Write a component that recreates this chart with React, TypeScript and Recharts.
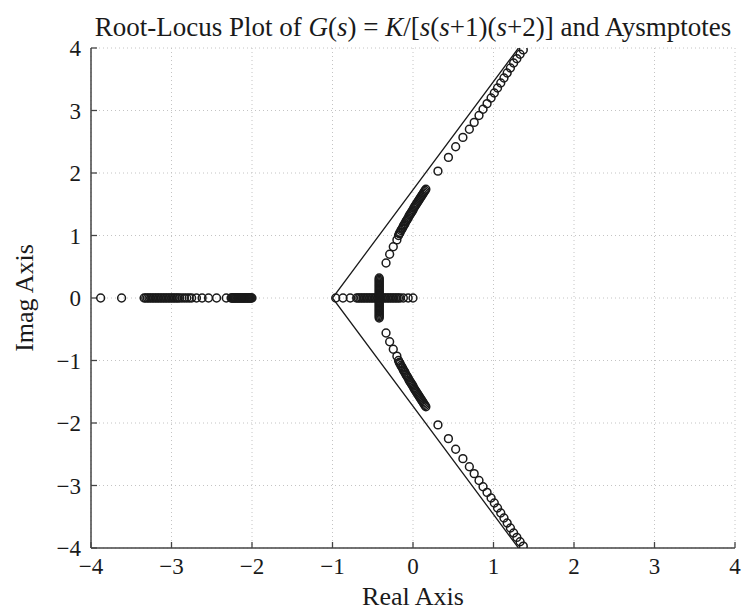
import React from 'react';
import { ScatterChart, Scatter, XAxis, YAxis, CartesianGrid } from 'recharts';

const axisTicks = [-4, -3, -2, -1, 0, 1, 2, 3, 4];

// closed-loop poles (circles)
const realAxisLeft = [
  -3.88, -3.62,
  -3.34, -3.32, -3.3, -3.28, -3.26, -3.24, -3.22, -3.2, -3.18, -3.16, -3.14, -3.12, -3.1, -3.08, -3.06,
  -3.04, -3.02, -3.0, -2.98, -2.96, -2.94, -2.92, -2.9, -2.87, -2.84, -2.81, -2.78, -2.75,
  -2.69, -2.62, -2.54, -2.44, -2.32,
  -2.26, -2.25, -2.24, -2.23, -2.22, -2.21, -2.2, -2.19, -2.18, -2.17, -2.16, -2.15, -2.14, -2.13,
  -2.12, -2.11, -2.1, -2.09, -2.08, -2.07, -2.06, -2.05, -2.04, -2.03, -2.02, -2.01, -2.0,
];
const realAxisMid = [
  -0.96, -0.87, -0.78,
  -0.7, -0.68, -0.66, -0.64, -0.62, -0.6, -0.58, -0.56, -0.54, -0.52, -0.5, -0.48, -0.46, -0.44, -0.42,
  -0.4, -0.38, -0.36, -0.34, -0.32, -0.3, -0.28, -0.26, -0.24, -0.22, -0.2, -0.18, -0.16,
  -0.12, -0.06, 0.0,
];
// the thick vertical bar at the breakaway point
const breakawayX = -0.42;
const breakawayImag = [
  -0.32, -0.3, -0.28, -0.26, -0.24, -0.22, -0.2, -0.18, -0.16, -0.14, -0.12, -0.1, -0.08, -0.06, -0.04, -0.02, 0,
  0.02, 0.04, 0.06, 0.08, 0.1, 0.12, 0.14, 0.16, 0.18, 0.2, 0.22, 0.24, 0.26, 0.28, 0.3, 0.32,
];
const upperBranch: [number, number][] = [
  [-0.335, 0.56], [-0.29, 0.7], [-0.245, 0.82], [-0.2, 0.93],
  [-0.18, 1.0], [-0.17, 1.03], [-0.16, 1.05], [-0.15, 1.08], [-0.14, 1.1], [-0.13, 1.12], [-0.12, 1.15],
  [-0.11, 1.17], [-0.1, 1.19], [-0.09, 1.22], [-0.08, 1.24], [-0.07, 1.26], [-0.06, 1.28], [-0.05, 1.31],
  [-0.04, 1.33], [-0.03, 1.35], [-0.02, 1.37], [-0.01, 1.39], [0.0, 1.41], [0.01, 1.44], [0.02, 1.46],
  [0.03, 1.48], [0.04, 1.5], [0.05, 1.52], [0.06, 1.54], [0.07, 1.56], [0.08, 1.58], [0.09, 1.6],
  [0.1, 1.62], [0.11, 1.64], [0.12, 1.66], [0.13, 1.68], [0.14, 1.7], [0.15, 1.72], [0.16, 1.74],
  [0.31, 2.03], [0.44, 2.25], [0.53, 2.42], [0.62, 2.57], [0.7, 2.7], [0.76, 2.81], [0.82, 2.92],
  [0.87, 3.02], [0.92, 3.11], [0.97, 3.2], [1.01, 3.28], [1.05, 3.36], [1.09, 3.44], [1.13, 3.52],
  [1.17, 3.6], [1.21, 3.68], [1.25, 3.76], [1.29, 3.83], [1.33, 3.9], [1.37, 3.97],
];
const lowerBranch: [number, number][] = [
  [-0.335, -0.56], [-0.29, -0.7], [-0.245, -0.82], [-0.2, -0.93],
  [-0.18, -1.0], [-0.17, -1.03], [-0.16, -1.05], [-0.15, -1.08], [-0.14, -1.1], [-0.13, -1.12], [-0.12, -1.15],
  [-0.11, -1.17], [-0.1, -1.19], [-0.09, -1.22], [-0.08, -1.24], [-0.07, -1.26], [-0.06, -1.28], [-0.05, -1.31],
  [-0.04, -1.33], [-0.03, -1.35], [-0.02, -1.37], [-0.01, -1.39], [0.0, -1.41], [0.01, -1.44], [0.02, -1.46],
  [0.03, -1.48], [0.04, -1.5], [0.05, -1.52], [0.06, -1.54], [0.07, -1.56], [0.08, -1.58], [0.09, -1.6],
  [0.1, -1.62], [0.11, -1.64], [0.12, -1.66], [0.13, -1.68], [0.14, -1.7], [0.15, -1.72], [0.16, -1.74],
  [0.31, -2.03], [0.44, -2.25], [0.53, -2.42], [0.62, -2.57], [0.7, -2.7], [0.76, -2.81], [0.82, -2.92],
  [0.87, -3.02], [0.92, -3.11], [0.97, -3.2], [1.01, -3.28], [1.05, -3.36], [1.09, -3.44], [1.13, -3.52],
  [1.17, -3.6], [1.21, -3.68], [1.25, -3.76], [1.29, -3.83], [1.33, -3.9], [1.37, -3.97],
];

// asymptotes: top end -> centroid -> bottom end
const asymptoteX = [1.31, -1, 1.31];
const asymptoteY = [4, 0, -4];

const poles = [
  ...realAxisLeft.map((x) => ({ x, y: 0 })),
  ...realAxisMid.map((x) => ({ x, y: 0 })),
  ...breakawayImag.map((y) => ({ x: breakawayX, y })),
  ...upperBranch.map(([x, y]) => ({ x, y })),
  ...lowerBranch.map(([x, y]) => ({ x, y })),
];
const asymptotes = asymptoteX.map((x, i) => ({ x, y: asymptoteY[i] }));

const serif = '"Liberation Serif", "DejaVu Serif", serif';
const ink = '#1a1a1a';

const fmt = (v: number) => (v < 0 ? `\u2212${-v}` : `${v}`);

function Ring(props: any) {
  const { cx, cy } = props;
  if (cx == null || cy == null) return <g />;
  return <circle cx={cx} cy={cy} r={3.9} fill="none" stroke={ink} strokeWidth={1.5} />;
}

const tickStyle = { fontFamily: serif, fontSize: 23, fill: ink };

export default function App() {
  return (
    <div style={{ position: 'absolute', left: 0, top: 0, width: 742, height: 612, background: '#fff', fontFamily: serif, color: ink }}>
      <div style={{ position: 'absolute', left: 0, top: 12, width: 826, textAlign: 'center', fontSize: 27, lineHeight: '30px', whiteSpace: 'nowrap' }}>
        Root-Locus Plot of <i>G</i>(<i>s</i>) = <i>K</i>/[<i>s</i>(<i>s</i>+1)(<i>s</i>+2)] and Aysmptotes
      </div>

      <ScatterChart width={742} height={612} margin={{ top: 48, right: 7, bottom: 34, left: 31 }}>
        <CartesianGrid stroke="#c4c4c4" strokeDasharray="1 3" horizontal vertical
          horizontalValues={axisTicks} verticalValues={axisTicks} />
        <XAxis dataKey="x" type="number" domain={[-4, 4]} ticks={axisTicks} allowDataOverflow
          height={30} tickSize={-6} tickMargin={16} tickFormatter={fmt} tick={tickStyle}
          axisLine={{ stroke: '#444', strokeWidth: 1.5 }} tickLine={{ stroke: '#444', strokeWidth: 1.3 }} />
        <XAxis xAxisId="top" orientation="top" dataKey="x" type="number" domain={[-4, 4]} ticks={axisTicks}
          allowDataOverflow height={0} tickSize={-6} tick={false}
          axisLine={{ stroke: '#444', strokeWidth: 1.5 }} tickLine={{ stroke: '#444', strokeWidth: 1.3 }} />
        <YAxis dataKey="y" type="number" domain={[-4, 4]} ticks={axisTicks} allowDataOverflow
          width={60} tickSize={-6} tickMargin={16} tickFormatter={fmt} tick={tickStyle}
          axisLine={{ stroke: '#444', strokeWidth: 1.5 }} tickLine={{ stroke: '#444', strokeWidth: 1.3 }} />
        <YAxis yAxisId="right" orientation="right" dataKey="y" type="number" domain={[-4, 4]} ticks={axisTicks}
          allowDataOverflow width={0} tickSize={-6} tick={false}
          axisLine={{ stroke: '#444', strokeWidth: 1.5 }} tickLine={{ stroke: '#444', strokeWidth: 1.3 }} />
        <Scatter data={asymptotes} line={{ stroke: ink, strokeWidth: 1.3 }} lineType="joint"
          shape={() => <g />} isAnimationActive={false} />
        <Scatter data={poles} shape={Ring} isAnimationActive={false} />
      </ScatterChart>

      <div style={{ position: 'absolute', left: 263, top: 584, width: 300, textAlign: 'center', fontSize: 26, lineHeight: '26px' }}>
        Real Axis
      </div>
      <div style={{ position: 'absolute', left: -75, top: 285, width: 200, textAlign: 'center', fontSize: 26, lineHeight: '26px', transform: 'rotate(-90deg)' }}>
        Imag Axis
      </div>
    </div>
  );
}
